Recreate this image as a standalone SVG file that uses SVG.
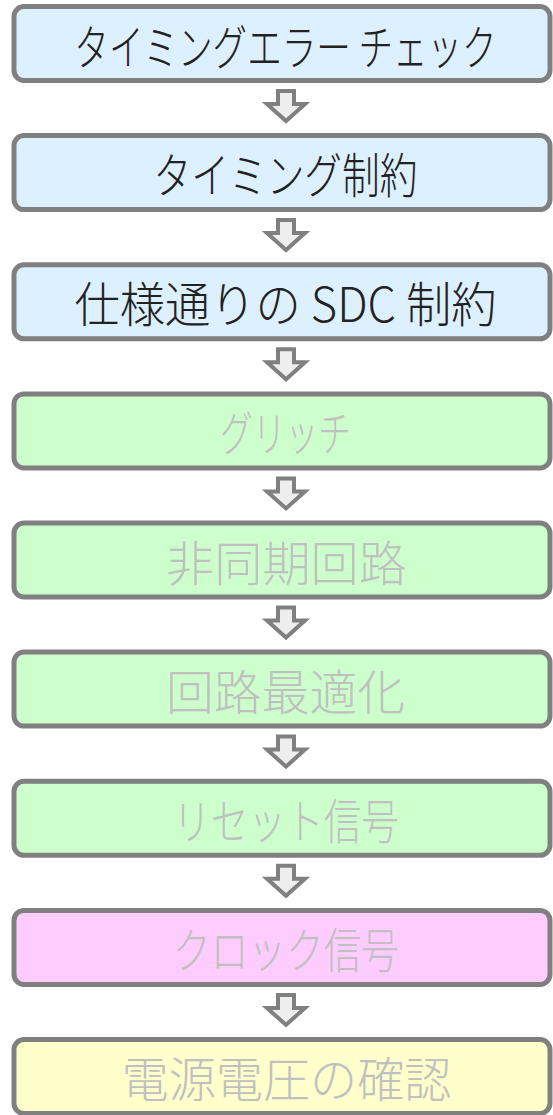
<svg xmlns="http://www.w3.org/2000/svg" width="553" height="1115" viewBox="0 0 553 1115">
<style>
.box{stroke:#808080;stroke-width:5}
.blue{fill:#ddf0ff}.green{fill:#ccffcc}.pink{fill:#ffccff}.yellow{fill:#ffffcc}
.t{font-family:"Noto Sans CJK JP","Noto Sans",sans-serif;font-size:48px;font-weight:300;text-anchor:middle}
.dark{fill:#222222}.gray{fill:#c0c0c0}
.arr{fill:#eeeeee;stroke:#808080;stroke-width:4;stroke-linejoin:miter}
</style>
<defs>
<path id="dn" d="M278,0 H294 V13 H305 L286,30 L267,13 H278 Z"/>
</defs>
<rect width="553" height="1115" fill="#ffffff"/>
<g id="n1"><rect class="box blue" x="14" y="6.5" width="536" height="74" rx="10"/><text class="t dark" x="0" y="0" font-size="46" transform="translate(285.5,65) scale(0.72,1)">タイミングエラー チェック</text></g>
<g id="n2"><rect class="box blue" x="14" y="135.6" width="536" height="74" rx="10"/><text class="t dark" x="285.5" y="193.1" textLength="264" lengthAdjust="spacingAndGlyphs">タイミング制約</text></g>
<g id="n3"><rect class="box blue" x="14" y="264.8" width="536" height="74" rx="10"/><text class="t dark" x="285.5" y="322.3" textLength="422" lengthAdjust="spacingAndGlyphs">仕様通りの SDC 制約</text></g>
<g id="n4"><rect class="box green" x="14" y="393.9" width="536" height="74" rx="10"/><text class="t gray" x="285.5" y="451.4" textLength="131" lengthAdjust="spacingAndGlyphs">グリッチ</text></g>
<g id="n5"><rect class="box green" x="14" y="523" width="536" height="74" rx="10"/><text class="t gray" x="286.5" y="580.5" textLength="241" lengthAdjust="spacingAndGlyphs">非同期回路</text></g>
<g id="n6"><rect class="box green" x="14" y="652.1" width="536" height="74" rx="10"/><text class="t gray" x="285.5" y="709.6" textLength="239" lengthAdjust="spacingAndGlyphs">回路最適化</text></g>
<g id="n7"><rect class="box green" x="14" y="781.3" width="536" height="74" rx="10"/><text class="t gray" x="286" y="838.8" textLength="226" lengthAdjust="spacingAndGlyphs">リセット信号</text></g>
<g id="n8"><rect class="box pink" x="14" y="910.4" width="536" height="74" rx="10"/><text class="t gray" x="286" y="967.9" textLength="226" lengthAdjust="spacingAndGlyphs">クロック信号</text></g>
<g id="n9"><rect class="box yellow" x="14" y="1039.5" width="536" height="74" rx="10"/><text class="t gray" x="286.5" y="1097" textLength="330" lengthAdjust="spacingAndGlyphs">電源電圧の確認</text></g>
<g id="connectors">
<use href="#dn" class="arr" y="91"/>
<use href="#dn" class="arr" y="220.1"/>
<use href="#dn" class="arr" y="349.3"/>
<use href="#dn" class="arr" y="478.4"/>
<use href="#dn" class="arr" y="607.5"/>
<use href="#dn" class="arr" y="736.6"/>
<use href="#dn" class="arr" y="865.8"/>
<use href="#dn" class="arr" y="994.9"/>
</g>
</svg>
